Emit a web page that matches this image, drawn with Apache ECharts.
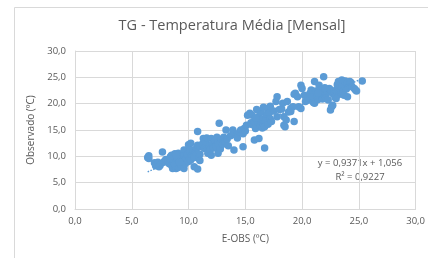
<!DOCTYPE html>
<html>
<head>
<meta charset="utf-8">
<script src="https://cdn.jsdelivr.net/npm/echarts@6/dist/echarts.min.js"></script>
<style>
  html, body { margin: 0; padding: 0; background: #fff; }
  #chart { width: 428px; height: 258px; }
</style>
</head>
<body>
<div id="chart"></div>
<script>
const pointsLow = [
  [6.4, 9.8], [6.5, 10.1], [6.5, 9.6], [7.0, 8.8], [7.1, 8.2], [7.3, 8.9], [7.5, 8.3], [7.7, 10.8],
  [7.8, 8.9], [7.9, 9.1], [7.4, 8.0], [8.0, 9.4]
]
const pointsCold = [
  [8.2, 9.3], [8.3, 8.6], [8.4, 9.9], [8.5, 8.3], [8.5, 10.2], [8.6, 9.0], [8.6, 7.7], [8.7, 9.6],
  [8.8, 8.1], [8.8, 10.5], [8.9, 7.7], [8.9, 9.2], [9.0, 8.6], [9.0, 10.0], [9.1, 10.6], [9.1, 7.9],
  [9.2, 9.4], [9.3, 8.4], [9.3, 10.3], [9.4, 9.9], [9.4, 8.9], [9.5, 9.2], [9.6, 7.7], [9.6, 11.2],
  [9.6, 10.1], [9.7, 8.6], [9.8, 9.6], [9.8, 11.0], [9.9, 10.4], [10.0, 12.2], [10.0, 9.0], [10.1, 10.9],
  [10.1, 9.5], [10.2, 12.5], [10.2, 9.3], [10.3, 10.2], [10.4, 11.2], [10.5, 8.0], [10.5, 9.8], [10.6, 10.7],
  [10.7, 11.5], [10.8, 7.6], [10.8, 12.1], [10.8, 14.7], [10.9, 9.6], [11.0, 10.4], [11.0, 11.8], [11.0, 9.2],
  [8.4, 9.5], [8.7, 8.8], [9.0, 9.6], [9.2, 8.9], [8.9, 10.2]
]
const pointsMild = [
  [11.2, 12.3], [11.3, 13.4], [11.4, 11.5], [11.5, 12.8], [11.6, 13.5], [11.7, 10.6], [11.8, 12.0], [11.9, 11.2],
  [12.0, 13.4], [12.0, 10.2], [12.1, 12.4], [12.2, 11.6], [12.3, 13.0], [12.4, 12.0], [12.5, 13.6], [12.6, 12.5],
  [12.6, 10.6], [12.7, 16.3], [12.8, 11.4], [12.9, 13.2], [13.0, 12.3], [13.1, 13.6], [13.2, 12.8], [13.3, 15.0],
  [13.4, 13.3], [13.5, 12.0], [13.7, 13.9], [13.9, 15.0], [14.0, 11.2], [14.0, 14.2], [14.2, 14.0], [14.3, 13.5],
  [14.5, 14.6], [14.6, 15.0], [14.8, 11.8], [14.8, 14.3], [14.9, 15.3], [15.0, 14.8], [15.1, 15.9]
]
const pointsWarm = [
  [15.2, 17.8], [15.4, 18.2], [15.5, 16.4], [15.6, 17.8], [15.7, 16.0], [15.8, 13.1], [15.8, 16.6], [15.9, 15.3],
  [16.0, 17.2], [16.1, 16.5], [16.2, 13.4], [16.2, 17.6], [16.3, 15.8], [16.4, 16.6], [16.4, 18.4], [16.5, 17.0],
  [16.5, 15.4], [16.6, 16.2], [16.7, 15.6], [16.7, 11.6], [16.8, 17.4], [16.8, 16.8], [16.9, 18.0], [17.0, 19.1],
  [17.0, 16.1], [17.1, 18.2], [17.2, 19.5], [17.2, 17.1], [17.3, 16.6], [17.5, 18.6], [16.6, 19.3], [16.0, 18.9],
  [15.9, 17.3],
  [17.7, 20.4], [17.8, 21.3], [17.8, 17.5], [18.0, 18.9], [18.2, 19.0], [18.3, 20.1], [18.4, 17.5], [18.4, 15.9],
  [18.5, 15.6], [18.6, 16.9], [18.7, 20.4], [18.8, 18.4], [19.0, 19.1], [19.0, 18.5], [19.2, 19.4], [19.3, 16.6],
  [19.3, 21.8], [19.4, 22.0], [19.6, 21.3], [19.7, 19.4], [19.9, 19.1], [19.9, 23.5], [20.0, 22.9]
]
const pointsHot = [
  [20.2, 21.6], [20.3, 20.4], [20.5, 21.1], [20.6, 20.7], [20.7, 22.0], [20.8, 22.6], [20.9, 21.3], [21.0, 20.2],
  [21.1, 20.1], [21.1, 24.2], [21.2, 22.4], [21.3, 21.3], [21.4, 20.8], [21.5, 23.5], [21.6, 21.9], [21.7, 22.7],
  [21.8, 20.9], [21.9, 25.1], [22.0, 21.5], [22.1, 21.6], [22.2, 22.2], [22.3, 20.7], [22.4, 22.9], [22.5, 22.6],
  [22.5, 18.8], [22.6, 19.4], [22.7, 19.7], [22.7, 21.9], [22.8, 22.3], [22.9, 21.2], [23.0, 22.6], [23.1, 23.6],
  [23.2, 23.9], [23.2, 24.2], [23.3, 21.8], [23.4, 22.5], [23.5, 24.5], [23.5, 23.2], [23.6, 22.0], [23.7, 21.6],
  [23.8, 24.3], [23.9, 22.8], [24.0, 21.3], [24.0, 23.9], [24.2, 24.2], [24.3, 24.0], [24.4, 23.2], [24.6, 22.9],
  [24.7, 22.6], [24.8, 22.4], [25.3, 24.3], [21.4, 22.0], [22.0, 23.0], [23.0, 21.0]
]
// linear trendline ends, as drawn
const trendLine = [[6.4, 7.05], [25.3, 24.76]]
const equationText = 'y = 0,9371x + 1,056'
const r2Text = 'R² = 0,9227'

const axisTicks = [0, 5, 10, 15, 20, 25, 30]

const blue = '#5b9bd5'
const grey = '#595959'
const lineGrey = '#d9d9d9'
const font = '"Open Sans", "Noto Sans", sans-serif'

const fmt = v => v.toFixed(1).replace('.', ',')

const chart = echarts.init(document.getElementById('chart'), null, { renderer: 'canvas' })

const valueAxis = (name, gap) => ({
  type: 'value',
  min: axisTicks[0],
  max: axisTicks[axisTicks.length - 1],
  interval: 5,
  name: name,
  nameLocation: 'middle',
  nameGap: gap,
  nameTextStyle: { color: grey, fontSize: 10, fontFamily: font },
  axisLine: { show: true, lineStyle: { color: lineGrey, width: 1 } },
  axisTick: { show: false },
  axisLabel: { color: grey, fontSize: 9.5, fontFamily: font, formatter: fmt },
  splitLine: { show: true, lineStyle: { color: lineGrey, width: 1 } }
})

const xAxis = valueAxis('E-OBS (ºC)', 25)
xAxis.axisLabel.margin = 7
const yAxis = valueAxis('Observado (ºC)', 30)
yAxis.axisLabel.margin = 9

const scatterSeries = (data) => ({
  type: 'scatter',
  data: data,
  symbol: 'circle',
  symbolSize: 7.5,
  itemStyle: { color: blue, opacity: 1 },
  silent: true
})

chart.setOption({
  backgroundColor: '#fff',
  animation: false,
  title: {
    text: 'TG - Temperatura Média [Mensal]',
    left: 227,
    top: 13,
    textAlign: 'center',
    textStyle: { color: grey, fontSize: 14.5, fontWeight: 'normal', fontFamily: font }
  },
  grid: { left: 75, right: 11, top: 51, bottom: 49, containLabel: false },
  xAxis: xAxis,
  yAxis: yAxis,
  series: [
    scatterSeries(pointsLow),
    scatterSeries(pointsCold),
    scatterSeries(pointsMild),
    scatterSeries(pointsWarm),
    scatterSeries(pointsHot),
    {
      type: 'line',
      data: trendLine,
      symbol: 'none',
      z: 3,
      lineStyle: { color: blue, width: 1.5, type: 'dotted' },
      silent: true
    }
  ],
  graphic: [
    {
      type: 'rect',
      shape: { x: 14.5, y: 7.5, width: 500, height: 400 },
      style: { fill: 'none', stroke: lineGrey, lineWidth: 1 },
      silent: true,
      z: -1
    },
    {
      type: 'text',
      x: 360,
      y: 163,
      style: { text: equationText, fill: grey, fontSize: 9.5, fontFamily: font, textAlign: 'center', textVerticalAlign: 'middle' },
      silent: true
    },
    {
      type: 'text',
      x: 360,
      y: 177,
      style: { text: r2Text, fill: grey, fontSize: 9.5, fontFamily: font, textAlign: 'center', textVerticalAlign: 'middle' },
      silent: true
    }
  ]
})
</script>
</body>
</html>
